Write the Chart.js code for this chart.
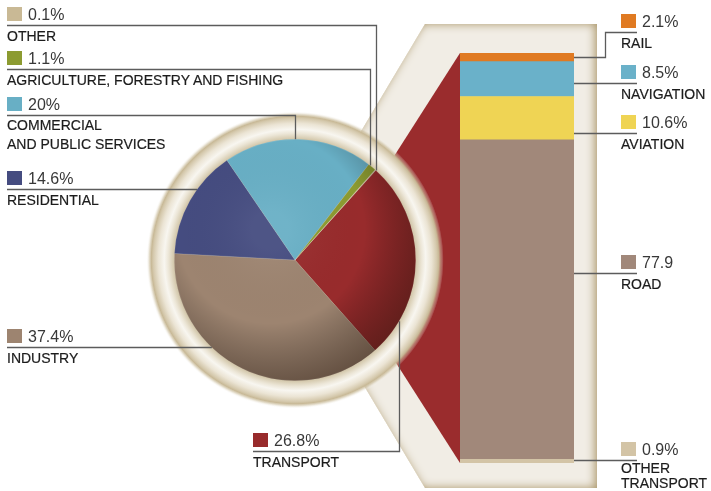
<!DOCTYPE html>
<html>
<head>
<meta charset="utf-8">
<script src="https://cdn.jsdelivr.net/npm/chart.js@4"></script>
<style>
  html, body { margin: 0; padding: 0; background: #fff; }
  #wrap { position: relative; width: 711px; height: 491px; overflow: hidden; font-family: "Liberation Sans", Arial, sans-serif; }
  canvas { position: absolute; left: 0; top: 0; }
  .sw { position: absolute; width: 15px; height: 14px; }
  .val { position: absolute; font-size: 16px; line-height: 16px; color: #383838; white-space: nowrap; }
  .cat { position: absolute; font-size: 14px; line-height: 15px; color: #1c1c1c; white-space: pre; -webkit-text-stroke: 0.2px #1c1c1c; }
</style>
</head>
<body>
<div id="wrap">
  <canvas id="barChart" width="711" height="491"></canvas>
  <canvas id="pieChart" width="711" height="491"></canvas>
  <div id="labels"></div>
</div>
<script>
// ── Data ──────────────────────────────────────────────────────────────
// pie, drawn clockwise starting at the transport slice
const pieLabels = ['TRANSPORT', 'INDUSTRY', 'RESIDENTIAL', 'COMMERCIAL\nAND PUBLIC SERVICES', 'AGRICULTURE, FORESTRY AND FISHING', 'OTHER'];
const pieValues = [26.8, 37.4, 14.6, 20, 1.1, 0.1];
const pieText   = ['26.8%', '37.4%', '14.6%', '20%', '1.1%', '0.1%'];
const pieColors = ['#982b2c', '#9d8470', '#454c80', '#68afc5', '#8c9b31', '#c9b995'];

// transport breakdown, stacked bottom to top
const barLabels = ['OTHER\nTRANSPORT', 'ROAD', 'AVIATION', 'NAVIGATION', 'RAIL'];
const barValues = [0.9, 77.9, 10.6, 8.5, 2.1];
const barText   = ['0.9%', '77.9', '10.6%', '8.5%', '2.1%'];
const barColors = ['#d3c4a6', '#a1887a', '#efd454', '#6ab1c9', '#e07a22'];

// ── Label layout (same order as the data) ─────────────────────────────
const pieLayout = [
  { x: 253, top: 433, vx: 399 },
  { x: 7, top: 329 },
  { x: 7, top: 171 },
  { x: 7, top: 97, vx: 295, catTop: 116, lh: 19 },
  { x: 7, top: 51, vx: 370 },
  { x: 7, top: 7, vx: 376 },
];
const barLayout = [
  { top: 442, catTop: 461 },
  { top: 255 },
  { top: 115 },
  { top: 65 },
  { top: 14, stepX: 605 },
];
const LABEL_X_RIGHT = 621;
const LINE_COLOR = '#5c5c5c';

// ── HTML labels ───────────────────────────────────────────────────────
function addLabel(x, top, color, value, cat, catTop, lh) {
  const box = document.getElementById('labels');
  const sw = document.createElement('div');
  sw.className = 'sw';
  sw.style.left = x + 'px'; sw.style.top = top + 'px'; sw.style.background = color;
  const v = document.createElement('div');
  v.className = 'val';
  v.style.left = (x + 21) + 'px'; v.style.top = top + 'px';
  v.textContent = value;
  const c = document.createElement('div');
  c.className = 'cat';
  c.style.left = x + 'px'; c.style.top = (catTop ?? top + 22) + 'px';
  if (lh) c.style.lineHeight = lh + 'px';
  c.textContent = cat;
  box.append(sw, v, c);
}
pieLayout.forEach((l, i) => addLabel(l.x, l.top, pieColors[i], pieText[i], pieLabels[i], l.catTop, l.lh));
barLayout.forEach((l, i) => addLabel(LABEL_X_RIGHT, l.top, barColors[i], barText[i], barLabels[i], l.catTop, l.lh));

// ── Plugins ───────────────────────────────────────────────────────────
function hexPoints(a) {
  const L = a.left - 35, R = a.right + 23, T = a.top - 29, B = a.bottom + 25;
  const mid = (T + B) / 2;
  return [[L, T], [R, T], [R, B], [L, B], [L - (mid - T) * 0.596, mid]];
}

const panelPlugin = {
  id: 'panel',
  beforeDatasetsDraw(chart) {
    const { ctx, chartArea: a } = chart;
    const pts = hexPoints(a);
    ctx.save();
    // hexagon panel with a soft beige inner edge
    ctx.beginPath();
    pts.forEach(([x, y], i) => i ? ctx.lineTo(x, y) : ctx.moveTo(x, y));
    ctx.closePath();
    ctx.fillStyle = '#f1ede5';
    ctx.fill();
    ctx.clip();
    ctx.beginPath();
    ctx.rect(-50, -50, chart.width + 100, chart.height + 100);
    pts.forEach(([x, y], i) => i ? ctx.lineTo(x, y) : ctx.moveTo(x, y));
    ctx.closePath();
    ctx.shadowColor = 'rgba(170,150,105,1)';
    ctx.shadowBlur = 10;
    ctx.shadowOffsetX = -2;
    ctx.fillStyle = '#d2c5aa';
    ctx.fill('evenodd');
    ctx.restore();

    // red wedge joining the transport slice to the bar
    ctx.save();
    ctx.beginPath();
    ctx.moveTo(a.left, a.top);
    ctx.lineTo(a.left, a.bottom);
    ctx.lineTo(a.left - 131, (a.top + a.bottom) / 2);
    ctx.closePath();
    ctx.fillStyle = '#9a2c2d';
    ctx.fill();
    ctx.restore();
  },
  afterDatasetsDraw(chart) {
    const { ctx } = chart;
    ctx.save();
    ctx.strokeStyle = LINE_COLOR;
    ctx.lineWidth = 1.3;
    barLayout.forEach((l, i) => {
      const el = chart.getDatasetMeta(i).data[0];
      const right = el.x + el.width / 2;
      const y = l.top + 18.5;
      ctx.beginPath();
      ctx.moveTo(LABEL_X_RIGHT + 16, y);
      if (l.stepX) {
        const segY = Math.round((el.y + el.base) / 2) + 0.5;
        ctx.lineTo(l.stepX + 0.5, y);
        ctx.lineTo(l.stepX + 0.5, segY);
        ctx.lineTo(right, segY);
      } else {
        ctx.lineTo(right, y);
      }
      ctx.stroke();
    });
    ctx.restore();
  },
};

const ringPlugin = {
  id: 'ring',
  beforeDatasetsDraw(chart) {
    const arc = chart.getDatasetMeta(0).data[0];
    const { ctx } = chart;
    const cx = arc.x, cy = arc.y, r = arc.outerRadius;
    const r0 = r - 2, span = 30;
    const g = ctx.createRadialGradient(cx, cy, r0, cx, cy, r0 + span);
    const stop = (d, c) => g.addColorStop(d / span, c);
    stop(0, '#b9aa89');
    stop(3, '#d6cbb0');
    stop(8, '#ece6d7');
    stop(12, '#f8f6f0');
    stop(18, '#ebe4d4');
    stop(23, '#d5c9ad');
    stop(25, '#c8b997');
    stop(27, 'rgba(205,192,160,0.55)');
    stop(30, 'rgba(255,255,255,0)');
    ctx.save();
    ctx.beginPath();
    ctx.arc(cx, cy, r0 + span, 0, Math.PI * 2);
    ctx.fillStyle = g;
    ctx.fill();
    ctx.restore();
  },
  afterDatasetsDraw(chart) {
    const arc = chart.getDatasetMeta(0).data[0];
    const { ctx } = chart;
    const cx = arc.x, cy = arc.y, r = arc.outerRadius;
    // soft shading, darker towards the lower right rim
    ctx.save();
    ctx.beginPath();
    ctx.arc(cx, cy, r, 0, Math.PI * 2);
    ctx.clip();
    const g = ctx.createRadialGradient(cx - r * 0.2, cy - r * 0.25, r * 0.15, cx - r * 0.2, cy - r * 0.25, r * 1.4);
    g.addColorStop(0, 'rgba(255,255,255,0.05)');
    g.addColorStop(0.5, 'rgba(0,0,0,0)');
    g.addColorStop(1, 'rgba(35,18,8,0.5)');
    ctx.fillStyle = g;
    ctx.fillRect(cx - r, cy - r, r * 2, r * 2);
    ctx.restore();
  },
  afterDraw(chart) {
    const arc = chart.getDatasetMeta(0).data[0];
    const { ctx } = chart;
    const cx = arc.x, cy = arc.y, r = arc.outerRadius;
    ctx.save();
    ctx.strokeStyle = LINE_COLOR;
    ctx.lineWidth = 1.3;
    pieLayout.forEach(l => {
      const y = l.top + 18.5;
      ctx.beginPath();
      ctx.moveTo(l.x, y);
      if (l.vx != null) {
        const dx = l.vx - cx;
        const h = Math.sqrt(r * r - dx * dx);
        ctx.lineTo(l.vx + 0.5, y);
        ctx.lineTo(l.vx + 0.5, y < cy ? cy - h : cy + h);
      } else {
        const dy = y - cy;
        ctx.lineTo(cx - Math.sqrt(r * r - dy * dy), y);
      }
      ctx.stroke();
    });
    ctx.restore();
  },
};

// ── Charts ────────────────────────────────────────────────────────────
new Chart(document.getElementById('barChart'), {
  type: 'bar',
  data: {
    labels: ['TRANSPORT'],
    datasets: barValues.map((v, i) => ({
      label: barLabels[i], data: [v], backgroundColor: barColors[i],
      borderWidth: 0, barPercentage: 1, categoryPercentage: 1,
    })),
  },
  options: {
    responsive: false,
    animation: false,
    devicePixelRatio: 1,
    layout: { padding: { left: 460, right: 137, top: 53, bottom: 28 } },
    plugins: { legend: { display: false }, tooltip: { enabled: false } },
    scales: {
      x: { stacked: true, display: false },
      y: { stacked: true, display: false, min: 0, max: 100 },
    },
  },
  plugins: [panelPlugin],
});

new Chart(document.getElementById('pieChart'), {
  type: 'pie',
  data: {
    labels: pieLabels,
    datasets: [{ data: pieValues, backgroundColor: pieColors, borderWidth: 0.6, borderColor: 'rgba(255,255,255,0.2)' }],
  },
  options: {
    responsive: false,
    animation: false,
    devicePixelRatio: 1,
    rotation: 42,
    layout: { padding: { left: 174, right: 295, top: 139, bottom: 110 } },
    plugins: { legend: { display: false }, tooltip: { enabled: false } },
  },
  plugins: [ringPlugin],
});
</script>
</body>
</html>
